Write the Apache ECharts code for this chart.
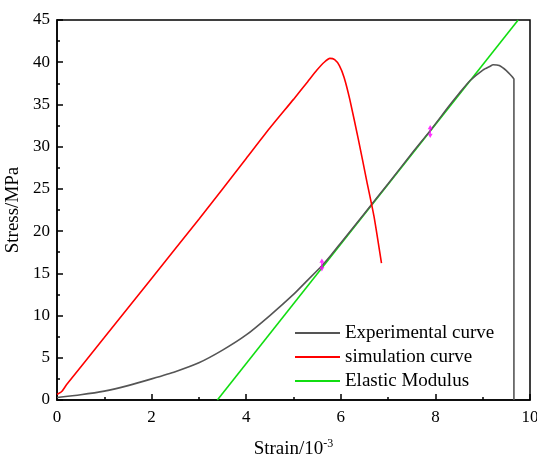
<!DOCTYPE html>
<html><head><meta charset="utf-8">
<script src="https://cdn.jsdelivr.net/npm/echarts@6/dist/echarts.min.js"></script>
<style>html,body{margin:0;padding:0;background:#fff}#c{width:537px;height:457px}</style>
</head><body><div id="c"></div>
<script>
const seriesNames = ['Experimental curve', 'simulation curve', 'Elastic Modulus'];
const experimental = [[0,0.3],[0.5,0.62],[1,1.05],[1.5,1.7],[2,2.5],[2.5,3.35],[3,4.4],[3.5,5.9],[4,7.7],[4.5,10.0],[5,12.5],[5.3,14.2],[5.6,15.9],[5.8,17.2],[6,18.6],[6.5,22.1],[7,25.6],[7.5,29.2],[7.89,31.9],[8.3,34.9],[8.5,36.3],[8.73,37.8],[9.01,39.1],[9.15,39.5],[9.22,39.7],[9.35,39.6],[9.5,39.0],[9.62,38.3],[9.66,38.0],[9.66,0]];
const simulation = [[0,0.65],[0.1,1.0],[0.2,1.8],[1,7.4],[2,14.4],[3,21.4],[4,28.6],[4.5,32.2],[5,35.6],[5.3,37.7],[5.5,39.1],[5.65,40.0],[5.77,40.45],[5.87,40.3],[5.97,39.6],[6.07,38.2],[6.19,35.6],[6.37,30.9],[6.55,25.9],[6.7,21.8],[6.86,16.2]];
const elastic = [[3.39,0],[9.75,45]];
const markers = [[5.6,16.0],[7.89,31.8]];
const xTicks = [0,2,4,6,8,10];
const yTicks = [0,5,10,15,20,25,30,35,40,45];

const font = 'Liberation Serif, Times New Roman, serif';
const chart = echarts.init(document.getElementById('c'), null, {renderer:'canvas'});
chart.setOption({
  backgroundColor:'#ffffff',
  animation:false,
  grid:{left:57,right:7,top:20,bottom:57,outerBoundsMode:'none',containLabel:false,show:true,borderColor:'#000',borderWidth:1.5,backgroundColor:'transparent'},
  xAxis:{type:'value',min:xTicks[0],max:xTicks[xTicks.length-1],interval:2,
    name:'Strain/10{sup|-3}',nameLocation:'middle',nameGap:38,
    nameTextStyle:{fontFamily:font,fontSize:19,color:'#000',rich:{sup:{fontFamily:font,fontSize:12,color:'#000',verticalAlign:'top',padding:[0,0,10,0]}}},
    axisLine:{lineStyle:{color:'#000',width:1.5}},
    axisTick:{inside:true,length:6,lineStyle:{color:'#000',width:1.5}},
    minorTick:{show:true,splitNumber:2,length:3,lineStyle:{color:'#000',width:1.5}},
    axisLabel:{fontFamily:font,fontSize:17,color:'#000',margin:9},
    splitLine:{show:false}},
  yAxis:{type:'value',min:yTicks[0],max:yTicks[yTicks.length-1],interval:5,
    name:'Stress/MPa',nameLocation:'middle',nameGap:33,
    nameTextStyle:{fontFamily:font,fontSize:19,color:'#000'},
    axisLine:{lineStyle:{color:'#000',width:1.5}},
    axisTick:{inside:true,length:6,lineStyle:{color:'#000',width:1.5}},
    minorTick:{show:true,splitNumber:2,length:3,lineStyle:{color:'#000',width:1.5}},
    axisLabel:{fontFamily:font,fontSize:17,color:'#000',margin:7},
    splitLine:{show:false}},
  legend:{orient:'vertical',left:290,top:316,itemWidth:45,itemHeight:2,itemGap:0,icon:'rect',
    textStyle:{fontFamily:font,fontSize:19,color:'#000',lineHeight:24},
    data:seriesNames},
  series:[
    {name:seriesNames[0],type:'line',data:experimental,symbol:'none',smooth:0.2,lineStyle:{color:'#555555',width:1.6},itemStyle:{color:'#555555'},z:3},
    {name:seriesNames[1],type:'line',data:simulation,symbol:'none',smooth:0.2,lineStyle:{color:'#ff0000',width:1.6},itemStyle:{color:'#ff0000'},z:3},
    {name:seriesNames[2],type:'line',data:elastic,symbol:'none',lineStyle:{color:'#11dd11',width:1.6},itemStyle:{color:'#11dd11'},z:2},
    {type:'scatter',data:markers,symbol:'path://M0,0 L2,4 L0.6,4 L0.6,8 L2,8 L0,12 L-2,8 L-0.6,8 L-0.6,4 L-2,4 Z',symbolSize:[5,13],itemStyle:{color:'#ff00ff'},z:5}
  ]
});
</script></body></html>
